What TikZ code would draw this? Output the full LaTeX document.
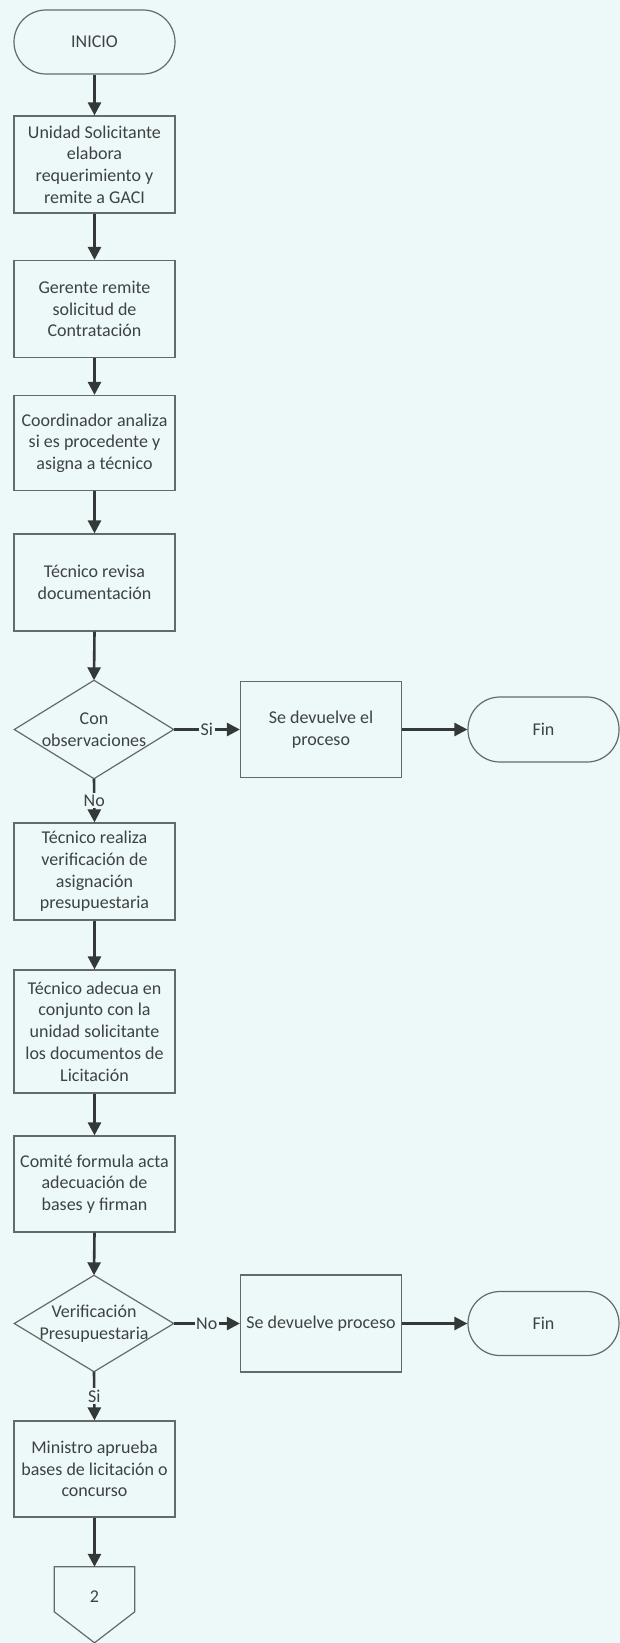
\documentclass[tikz,border=0pt]{standalone}
\usepackage{fontspec}
\setmainfont{Carlito}
\usetikzlibrary{arrows.meta,calc}
\definecolor{bg}{RGB}{237,248,248}
\definecolor{edge}{RGB}{100,106,106}
\definecolor{ink}{RGB}{52,56,56}
\definecolor{txt}{RGB}{62,66,66}
\begin{document}
\begin{tikzpicture}[x=1pt,y=-1pt,
  every node/.style={font=\fontsize{18}{21.7}\selectfont, text=txt},
  stepbox/.style={draw=edge, line width=1.2pt, fill=bg, minimum width=161pt,
    minimum height=97pt, align=center, inner sep=2pt},
  term/.style={draw=edge, line width=1.2pt, fill=bg, rounded corners=32pt,
    minimum width=161pt, minimum height=64pt, align=center},
  decision/.style={minimum width=159pt, minimum height=98pt, inner sep=0pt, align=center},
  shapeline/.style={draw=edge, line width=1.2pt},
  flow/.style={draw=ink, line width=2.6pt, -{Triangle[width=13pt,length=13pt]}},
  tag/.style={fill=bg, inner sep=1.5pt}
]
% page
\fill[bg] (0,0) rectangle (620,1643);
\useasboundingbox (0,0) rectangle (620,1643);

% main column
\node[term] (inicio) at (94.5,42) {INICIO};
\node[stepbox] (s1) at (94.5,164.5) {Unidad Solicitante\\elabora\\requerimiento y\\remite a GACI};
\node[stepbox, minimum height=97pt] (s2) at (94.5,309) {Gerente remite\\solicitud de\\Contratación};
\node[stepbox, minimum height=95pt] (s3) at (94.5,443) {Coordinador analiza\\si es procedente y\\asigna a técnico};
\node[stepbox] (s4) at (94.5,582.5) {Técnico revisa\\documentación};
\node[decision] (d1) at (94,729.5) {Con\\observaciones};
\node[stepbox] (s5) at (94.5,871.5) {Técnico realiza\\verificación de\\asignación\\presupuestaria};
\node[stepbox, minimum height=123pt] (s6) at (94.5,1031.5) {Técnico adecua en\\conjunto con la\\unidad solicitante\\los documentos de\\Licitación};
\node[stepbox, minimum height=96pt] (s7) at (94.5,1184) {Comité formula acta\\adecuación de\\bases y firman};
\node[decision, minimum height=96pt] (d2) at (94,1323.5) {Verificación\\Presupuestaria};
\node[stepbox, minimum height=96pt] (s8) at (94.5,1469) {Ministro aprueba\\bases de licitación o\\concurso};
\node[minimum width=80pt, minimum height=60pt, inner sep=0pt] (c2) at (94.5,1597) {2};

% side branches
\node[stepbox, minimum height=96pt] (r1) at (321,729.5) {Se devuelve el\\proceso};
\node[term, minimum width=151pt, minimum height=65pt] (f1) at (543.5,729.5) {Fin};
\node[stepbox, minimum height=97pt] (r2) at (321,1323.5) {Se devuelve proceso};
\node[term, minimum width=151pt, minimum height=64pt] (f2) at (543.5,1323.5) {Fin};

% decision outlines and off-page connector
\draw[shapeline] (d1.north) -- (d1.east) -- (d1.south) -- (d1.west) -- cycle;
\draw[shapeline] (d2.north) -- (d2.east) -- (d2.south) -- (d2.west) -- cycle;
\draw[shapeline] (c2.north west) -- (c2.north east) -- ($(c2.north east)+(0,45)$)
  -- ($(c2.north)+(0,76)$) -- ($(c2.north west)+(0,45)$) -- cycle;

% connectors
\draw[flow] (inicio.south) -- (s1.north);
\draw[flow] (s1.south) -- (s2.north);
\draw[flow] (s2.south) -- (s3.north);
\draw[flow] (s3.south) -- (s4.north);
\draw[flow] (s4.south) -- (d1.north);
\draw[flow] (d1.east) -- node[tag] {Si} (r1.west);
\draw[flow] (r1.east) -- (f1.west);
\draw[flow] (d1.south) -- node[tag] {No} (s5.north);
\draw[flow] (s5.south) -- (s6.north);
\draw[flow] (s6.south) -- (s7.north);
\draw[flow] (s7.south) -- (d2.north);
\draw[flow] (d2.east) -- node[tag] {No} (r2.west);
\draw[flow] (r2.east) -- (f2.west);
\draw[flow] (d2.south) -- node[tag] {Si} (s8.north);
\draw[flow] (s8.south) -- (c2.north);
\end{tikzpicture}
\end{document}
